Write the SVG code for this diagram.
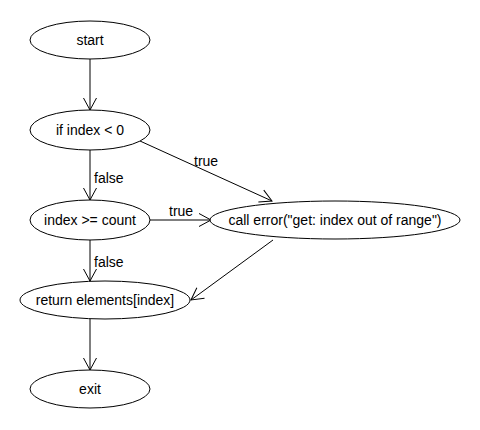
<svg xmlns="http://www.w3.org/2000/svg" width="480" height="430" viewBox="0 0 480 430">
<defs>
<style>
.node ellipse{fill:#fff;stroke:#000;stroke-width:1}
.node text{font-family:"Liberation Sans",Arial,sans-serif;font-size:14px;fill:#000;text-anchor:middle}
.edge{stroke:#000;stroke-width:1;fill:none;marker-end:url(#arr)}
.lbl{font-family:"Liberation Sans",Arial,sans-serif;font-size:14px;fill:#000}
</style>
<marker id="arr" markerUnits="userSpaceOnUse" markerWidth="16" markerHeight="16" viewBox="-14 -8 16 16" refX="0" refY="0" orient="auto">
<path d="M-12,-6.5 L0,0 L-12,6.5" fill="none" stroke="#000" stroke-width="1"/>
</marker>
</defs>
<rect width="480" height="430" fill="#fff"/>
<g id="connectors">
<line class="edge" x1="90" y1="59" x2="90" y2="110"/>
<line class="edge" x1="90" y1="150" x2="90" y2="200"/>
<line class="edge" x1="140" y1="141" x2="272" y2="201"/>
<line class="edge" x1="150" y1="220" x2="211" y2="220"/>
<line class="edge" x1="273" y1="240" x2="191" y2="300"/>
<line class="edge" x1="90" y1="240" x2="90" y2="281"/>
<line class="edge" x1="90" y1="319" x2="90" y2="370"/>
<text class="lbl" x="94" y="183">false</text>
<text class="lbl" x="194" y="166">true</text>
<text class="lbl" x="169" y="216">true</text>
<text class="lbl" x="94" y="267">false</text>
</g>
<g id="start" class="node"><ellipse cx="90" cy="40" rx="60" ry="19"/><text x="90" y="45">start</text></g>
<g id="if_index_lt_0" class="node"><ellipse cx="90" cy="130" rx="60" ry="20"/><text x="90" y="135">if index &lt; 0</text></g>
<g id="index_ge_count" class="node"><ellipse cx="90" cy="220" rx="60" ry="20"/><text x="90" y="225">index &gt;= count</text></g>
<g id="call_error" class="node"><ellipse cx="335" cy="220" rx="125" ry="19"/><text x="335" y="225">call error("get: index out of range")</text></g>
<g id="return_elements" class="node"><ellipse cx="105" cy="300" rx="85" ry="19"/><text x="105" y="305">return elements[index]</text></g>
<g id="exit" class="node"><ellipse cx="90" cy="389" rx="60" ry="19"/><text x="90" y="394">exit</text></g>
</svg>
